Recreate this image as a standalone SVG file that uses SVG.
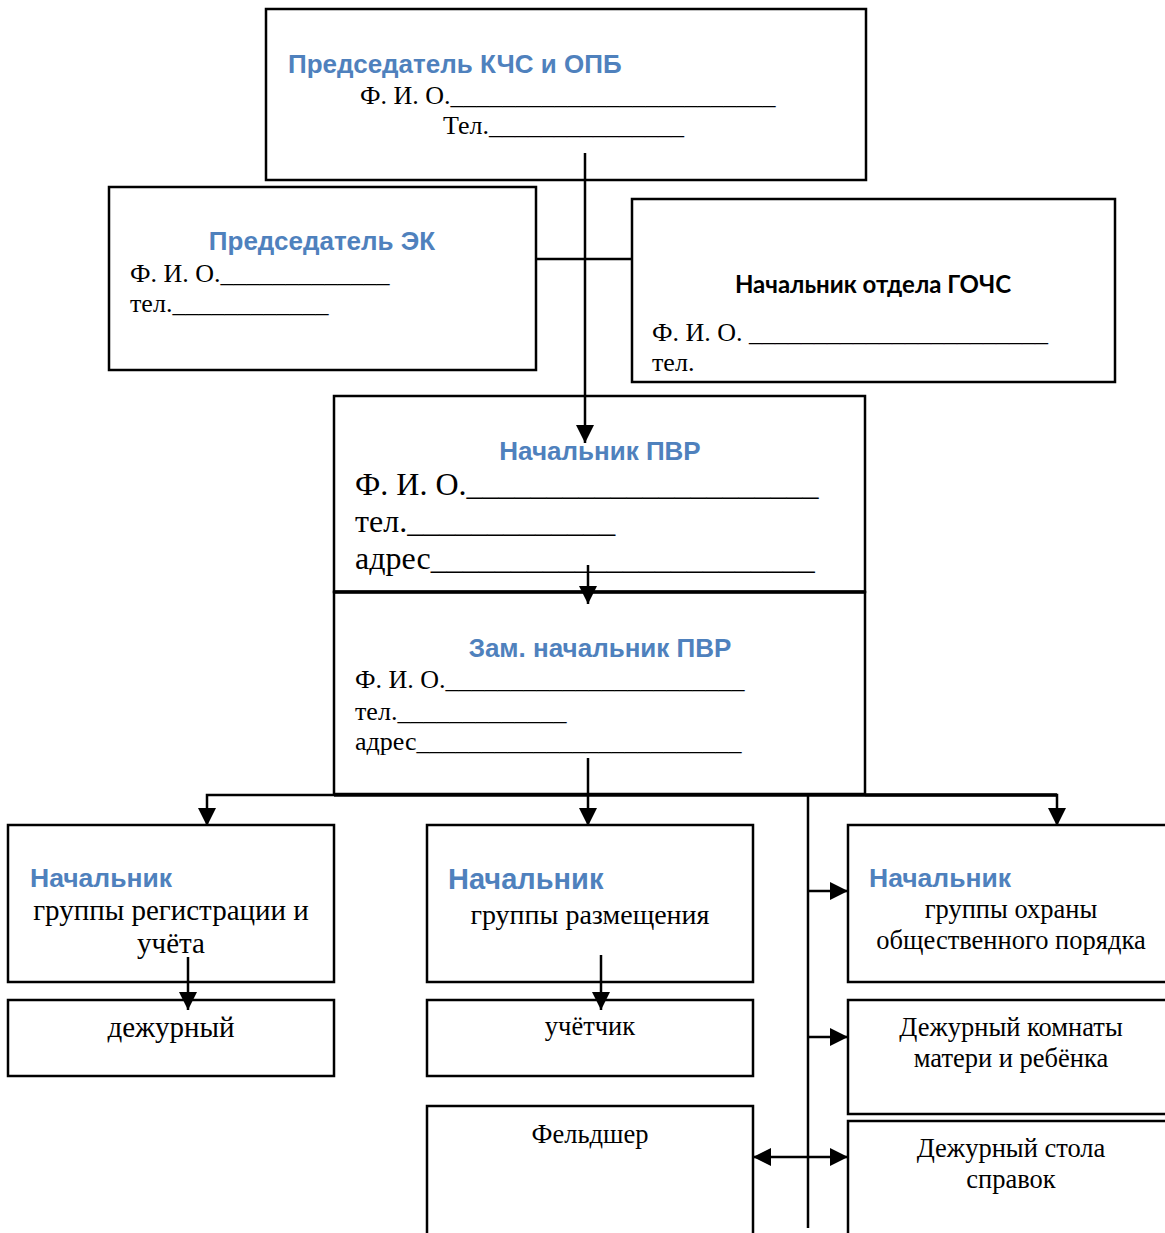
<svg xmlns="http://www.w3.org/2000/svg" width="1165" height="1233" viewBox="0 0 1165 1233">
<style>
.box{fill:#fff;stroke:#000;stroke-width:2.5}
.h{font-family:"Liberation Sans",Arial,sans-serif;font-weight:bold;fill:#4F81BD}
.t{font-family:"Liberation Serif","Times New Roman",serif;fill:#000}
.c{text-anchor:middle}
.ln{stroke:#000;stroke-width:2.5;fill:none}
</style>
<defs>
<marker id="ah" markerUnits="userSpaceOnUse" markerWidth="20" markerHeight="20" viewBox="0 0 20 20" refX="18" refY="10" orient="auto-start-reverse">
<path d="M0,1 L18,10 L0,19 Z" fill="#000"/>
</marker>
</defs>
<rect width="1165" height="1233" fill="#fff"/>

<g id="chair-kchs">
<rect class="box" x="266" y="9" width="600" height="171"/>
<text class="h" x="288" y="73" font-size="26">Председатель КЧС и ОПБ</text>
<text class="t" x="360" y="104" font-size="26">Ф. И. О._________________________</text>
<text class="t" x="443" y="134" font-size="26">Тел._______________</text>
</g>

<g id="chair-ek">
<rect class="box" x="109" y="187" width="427" height="183"/>
<text class="h c" x="322" y="250" font-size="26">Председатель ЭК</text>
<text class="t" x="130" y="282" font-size="26">Ф. И. О._____________</text>
<text class="t" x="130" y="312" font-size="26">тел.____________</text>
</g>

<g id="gochs">
<rect class="box" x="632" y="199" width="483" height="183"/>
<text x="873" y="293" font-size="24" font-weight="bold" text-anchor="middle" font-family="Lato,'Open Sans',sans-serif" fill="#000">Начальник отдела ГОЧС</text>
<text class="t" x="652" y="341" font-size="26">Ф. И. О. _______________________</text>
<text class="t" x="652" y="371" font-size="26">тел.</text>
</g>

<g id="pvr">
<rect class="box" x="334" y="396" width="531" height="196"/>
<text class="h c" x="600" y="460" font-size="26">Начальник ПВР</text>
<text class="t" x="355" y="495" font-size="32">Ф. И. О.______________________</text>
<text class="t" x="355" y="532" font-size="32">тел._____________</text>
<text class="t" x="355" y="569" font-size="32">адрес________________________</text>
</g>

<g id="zam-pvr">
<rect class="box" x="334" y="592" width="531" height="202"/>
<line x1="334" y1="592" x2="865" y2="592" stroke="#000" stroke-width="3.5"/>
<text class="h c" x="600" y="657" font-size="26">Зам. начальник ПВР</text>
<text class="t" x="355" y="688" font-size="26">Ф. И. О._______________________</text>
<text class="t" x="355" y="720" font-size="26">тел._____________</text>
<text class="t" x="355" y="750" font-size="26">адрес_________________________</text>
</g>

<g id="reg">
<rect class="box" x="8" y="825" width="326" height="157"/>
<text class="h" x="30" y="887" font-size="26.5">Начальник</text>
<text class="t c" x="171" y="920" font-size="29">группы регистрации и</text>
<text class="t c" x="171" y="953" font-size="29">учёта</text>
</g>
<g id="duty">
<rect class="box" x="8" y="1000" width="326" height="76"/>
<text class="t c" x="171" y="1037" font-size="29">дежурный</text>
</g>

<g id="placement">
<rect class="box" x="427" y="825" width="326" height="157"/>
<text class="h" x="448" y="889" font-size="29">Начальник</text>
<text class="t c" x="590" y="924" font-size="28">группы размещения</text>
</g>
<g id="accountant">
<rect class="box" x="427" y="1000" width="326" height="76"/>
<text class="t c" x="590" y="1035" font-size="26.5">учётчик</text>
</g>
<g id="feldsher">
<rect class="box" x="427" y="1106" width="326" height="140"/>
<text class="t c" x="590" y="1143" font-size="26.5">Фельдшер</text>
</g>

<g id="order">
<rect class="box" x="848" y="825" width="330" height="157"/>
<text class="h" x="869" y="887" font-size="26.5">Начальник</text>
<text class="t c" x="1011" y="918" font-size="26.5">группы охраны</text>
<text class="t c" x="1011" y="949" font-size="26.5">общественного порядка</text>
</g>
<g id="mother-child">
<rect class="box" x="848" y="1000" width="330" height="114"/>
<text class="t c" x="1011" y="1036" font-size="26.5">Дежурный комнаты</text>
<text class="t c" x="1011" y="1067" font-size="26.5">матери и ребёнка</text>
</g>
<g id="info-desk">
<rect class="box" x="848" y="1121" width="330" height="130"/>
<text class="t c" x="1011" y="1157" font-size="26.5">Дежурный стола</text>
<text class="t c" x="1011" y="1188" font-size="26.5">справок</text>
</g>

<g id="connectors">
<line class="ln" x1="585" y1="153" x2="585" y2="443" marker-end="url(#ah)"/>
<line class="ln" x1="536" y1="259" x2="632" y2="259"/>
<line class="ln" x1="588" y1="565" x2="588" y2="604" marker-end="url(#ah)"/>
<path class="ln" d="M334,795 H207 V826" marker-end="url(#ah)" stroke-width="3"/>
<line x1="334" y1="795" x2="1057" y2="795" stroke="#000" stroke-width="3.5"/>
<path class="ln" d="M865,795 H1057 V826" marker-end="url(#ah)"/>
<line class="ln" x1="588" y1="758" x2="588" y2="826" marker-end="url(#ah)"/>
<line class="ln" x1="808" y1="795" x2="808" y2="1228"/>
<line class="ln" x1="808" y1="891" x2="848" y2="891" marker-end="url(#ah)"/>
<line class="ln" x1="808" y1="1037" x2="848" y2="1037" marker-end="url(#ah)"/>
<line class="ln" x1="753" y1="1157" x2="848" y2="1157" marker-start="url(#ah)" marker-end="url(#ah)"/>
<line class="ln" x1="188" y1="957" x2="188" y2="1010" marker-end="url(#ah)"/>
<line class="ln" x1="601" y1="955" x2="601" y2="1010" marker-end="url(#ah)"/>
</g>
</svg>
